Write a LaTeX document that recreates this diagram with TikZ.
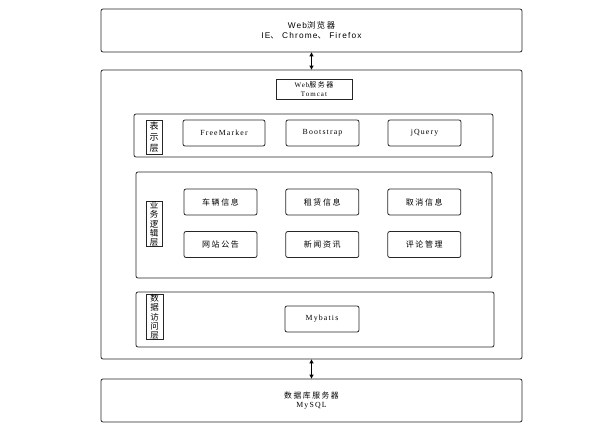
\documentclass[tikz,border=0pt]{standalone}
\usepackage{fontspec}
\setmainfont{Liberation Serif}[LetterSpace=15]
\newfontfamily\sansf{Liberation Sans}[LetterSpace=14]
\newfontfamily\cjk{Noto Sans CJK SC}[LetterSpace=20]
\newfontfamily\cjkl{Noto Sans CJK SC}
\usetikzlibrary{arrows.meta}
\begin{document}
\begin{tikzpicture}[x=1pt,y=-1pt,
  box/.style={draw=black!85,line width=0.8pt,rounded corners=2pt,inner sep=0pt},
  lab/.style={draw=black!85,line width=0.8pt,inner sep=0pt,align=center,font=\cjkl\fontsize{8.5}{9.2}\selectfont},
  comp/.style={box,font=\fontsize{7.8}{8}\selectfont,minimum height=26pt},
  ccomp/.style={box,font=\cjk\fontsize{8}{8}\selectfont,minimum height=26pt,minimum width=73pt},
  arr/.style={{Triangle[length=4pt,width=4pt]}-{Triangle[length=4pt,width=4pt]},line width=0.9pt}]
\useasboundingbox (0,0) rectangle (597,436);
% outer boxes
\node[box,minimum width=421pt,minimum height=43pt,align=center,font=\sansf\fontsize{8.3}{10}\selectfont] (browser) at (311.5,30.5)
  {Web{\cjk 浏览器}\\IE{\cjk 、} Chrome{\cjk 、} Firefox};
\node[box,minimum width=421pt,minimum height=289pt] (server) at (311.5,214.5) {};
\node[box,rounded corners=0pt,minimum width=76pt,minimum height=20pt,align=center,font=\fontsize{7}{9}\selectfont] (tomcat) at (314,89)
  {Web{\cjk 服务器}\\Tomcat};
\node[box,minimum width=421pt,minimum height=43pt,align=center,font=\fontsize{7.8}{9.5}\selectfont] (db) at (311.5,400.5)
  {{\cjk 数据库服务器}\\MySQL};
% presentation layer
\node[box,minimum width=359pt,minimum height=43pt] (pres) at (313.5,135.5) {};
\node[lab,minimum width=16pt,minimum height=34pt,font=\cjkl\fontsize{9}{11}\selectfont] (preslab) at (154,137) {表\\示\\层};
\node[comp,minimum width=82pt] (fm) at (224,133) {FreeMarker};
\node[comp,minimum width=73pt] (bs) at (322.5,133) {Bootstrap};
\node[comp,minimum width=73pt] (jq) at (424.5,133) {jQuery};
% business layer
\node[box,minimum width=356pt,minimum height=106pt] (bus) at (314,225) {};
\node[lab,minimum width=16pt,minimum height=42pt] (buslab) at (154,224) {业\\务\\逻\\辑\\层};
\node[ccomp] (car) at (220.5,202) {车辆信息};
\node[ccomp] (rent) at (322.3,202) {租赁信息};
\node[ccomp] (cancel) at (424.3,202) {取消信息};
\node[ccomp] (notice) at (220.5,244.5) {网站公告};
\node[ccomp] (news) at (322.3,244.5) {新闻资讯};
\node[ccomp] (comment) at (424.3,244.5) {评论管理};
% data access layer
\node[box,minimum width=358pt,minimum height=55pt] (data) at (315,319.5) {};
\node[lab,minimum width=17pt,minimum height=44pt] (datalab) at (154.5,317) {数\\据\\访\\问\\层};
\node[comp,minimum width=74pt] (mb) at (322,319) {Mybatis};
% arrows
\draw[arr] (browser.south) -- (server.north);
\draw[arr] (server.south) -- (db.north);
\end{tikzpicture}
\end{document}
